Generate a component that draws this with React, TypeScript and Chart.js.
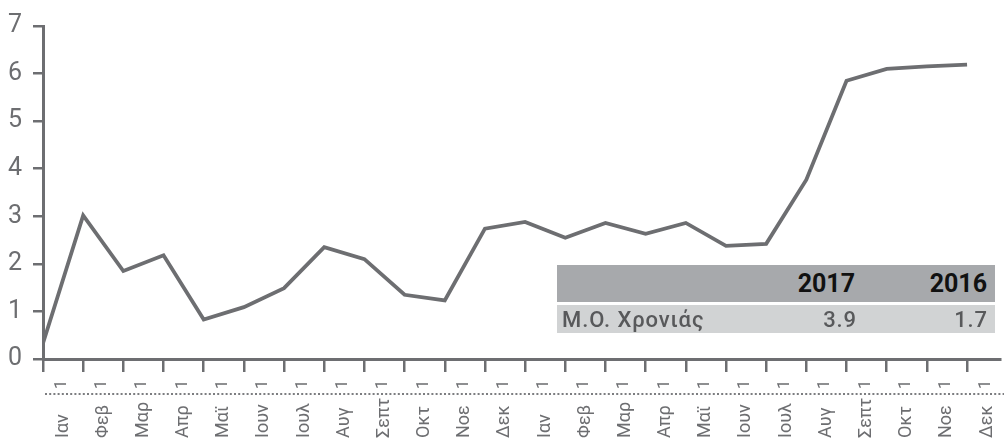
import React, { useEffect, useRef } from "react";
import { Chart, registerables } from "chart.js";

Chart.register(...registerables);

const months = [
  "Ιαν", "Φεβ", "Μαρ", "Απρ", "Μαϊ", "Ιουν", "Ιουλ", "Αυγ", "Σεπτ", "Οκτ", "Νοε", "Δεκ",
  "Ιαν", "Φεβ", "Μαρ", "Απρ", "Μαϊ", "Ιουν", "Ιουλ", "Αυγ", "Σεπτ", "Οκτ", "Νοε", "Δεκ",
];
const days = ["1", "1", "1", "1", "1", "1", "1", "1", "1", "1", "1", "1",
  "1", "1", "1", "1", "1", "1", "1", "1", "1", "1", "1", "1"];
const values = [
  0.33, 3.02, 1.85, 2.18, 0.83, 1.09, 1.49, 2.35, 2.1, 1.35, 1.23, 2.74,
  2.88, 2.55, 2.86, 2.63, 2.86, 2.38, 2.42, 3.77, 5.85, 6.1, 6.15, 6.19,
];
const yTicks = [0, 1, 2, 3, 4, 5, 6, 7];
const tableYears = ["2017", "2016"];
const tableRowLabel = "Μ.Ο. Χρονιάς";
const tableValues = ["3.9", "1.7"];

const GRAY = "#6d6e71";
const FONT = "Roboto, 'Noto Sans', sans-serif";

const monthLabelPlugin = {
  id: "monthLabels",
  afterDraw(chart: any) {
    const sc = chart.scales.x;
    const s2 = chart.scales.x2;
    const ctx = chart.ctx;
    ctx.save();
    // dotted separator between the two label levels
    ctx.strokeStyle = "#7c7d80";
    ctx.lineWidth = 2;
    ctx.setLineDash([2, 2.2]);
    ctx.beginPath();
    const yLine = Math.round(s2.top);
    ctx.moveTo(chart.chartArea.left + 2, yLine);
    ctx.lineTo(chart.width, yLine);
    ctx.stroke();
    ctx.setLineDash([]);
    ctx.fillStyle = GRAY;
    ctx.font = `18px ${FONT}`;
    ctx.textAlign = "left";
    ctx.textBaseline = "middle";
    const baseY = chart.height - 3;
    months.forEach((m, i) => {
      const x = sc.getPixelForValue(i) + 20;
      ctx.save();
      ctx.translate(x, baseY);
      ctx.rotate(-Math.PI / 2);
      ctx.fillText(m, 0, 0);
      ctx.restore();
    });
    ctx.restore();
  },
};

export default function App() {
  const ref = useRef<HTMLCanvasElement>(null);
  useEffect(() => {
    if (!ref.current) return;
    const xMax = 23.82;
    const chart = new Chart(ref.current, {
      type: "line",
      data: {
        datasets: [
          {
            data: values.map((v, i) => ({ x: i, y: v })),
            borderColor: GRAY,
            borderWidth: 3.8,
            pointRadius: 0,
            tension: 0,
            borderJoinStyle: "miter",
            fill: false,
            xAxisID: "x",
            yAxisID: "y",
          },
        ],
      },
      options: {
        animation: false,
        responsive: true,
        maintainAspectRatio: false,
        layout: { padding: { top: 23, right: 4, left: 0, bottom: 0 } },
        plugins: { legend: { display: false }, tooltip: { enabled: false } },
        scales: {
          y: {
            min: 0,
            max: 7,
            afterBuildTicks: (s: any) => {
              s.ticks = yTicks.map((v) => ({ value: v }));
            },
            afterFit: (s: any) => {
              s.width = 43;
            },
            ticks: {
              color: GRAY,
              font: { family: FONT, size: 25, weight: "400" },
              padding: 11,
            },
            grid: {
              drawOnChartArea: false,
              drawTicks: true,
              tickLength: 10,
              lineWidth: 2.5,
              color: GRAY,
            },
            border: { display: true, width: 3, color: GRAY },
          },
          x: {
            type: "linear",
            position: "bottom",
            min: 0,
            max: xMax,
            afterBuildTicks: (s: any) => {
              s.ticks = days.map((_, i) => ({ value: i }));
            },
            afterFit: (s: any) => {
              s.height = 35;
            },
            ticks: {
              autoSkip: false,
              maxRotation: 90,
              minRotation: 90,
              labelOffset: 19,
              padding: 8,
              color: GRAY,
              font: { family: FONT, size: 16 },
              callback: (v: any) => days[v] ?? "",
            },
            grid: {
              drawOnChartArea: false,
              drawTicks: true,
              tickLength: 13,
              lineWidth: 2.5,
              color: GRAY,
            },
            border: { display: true, width: 3, color: GRAY },
          },
          x2: {
            type: "linear",
            position: "bottom",
            min: 0,
            max: xMax,
            afterFit: (s: any) => {
              s.height = 47;
            },
            ticks: { display: false },
            grid: { display: false, drawOnChartArea: false, drawTicks: false },
            border: { display: false },
          },
        },
      },
      plugins: [monthLabelPlugin],
    } as any);
    return () => chart.destroy();
  }, []);

  const rowStyle: React.CSSProperties = {
    display: "flex",
    alignItems: "center",
    position: "relative",
  };
  return (
    <div style={{ position: "absolute", left: 0, top: 0, width: 1004, height: 441 }}>
      <canvas ref={ref} />
      <div
        style={{
          position: "absolute",
          left: 557,
          top: 265,
          width: 438,
          fontFamily: FONT,
        }}
      >
        <div style={{ ...rowStyle, height: 37, background: "#a7a9ac", color: "#111", fontWeight: 700, fontSize: 25 }}>
          <span style={{ position: "absolute", right: 140 }}>{tableYears[0]}</span>
          <span style={{ position: "absolute", right: 8 }}>{tableYears[1]}</span>
        </div>
        <div style={{ height: 3 }} />
        <div
          style={{
            ...rowStyle,
            height: 28,
            background: "#d1d3d4",
            color: "#58595b",
            fontWeight: 500,
            fontSize: 22,
            letterSpacing: "0.9px",
          }}
        >
          <span style={{ position: "absolute", left: 5 }}>{tableRowLabel}</span>
          <span style={{ position: "absolute", right: 138 }}>{tableValues[0]}</span>
          <span style={{ position: "absolute", right: 7 }}>{tableValues[1]}</span>
        </div>
      </div>
    </div>
  );
}
